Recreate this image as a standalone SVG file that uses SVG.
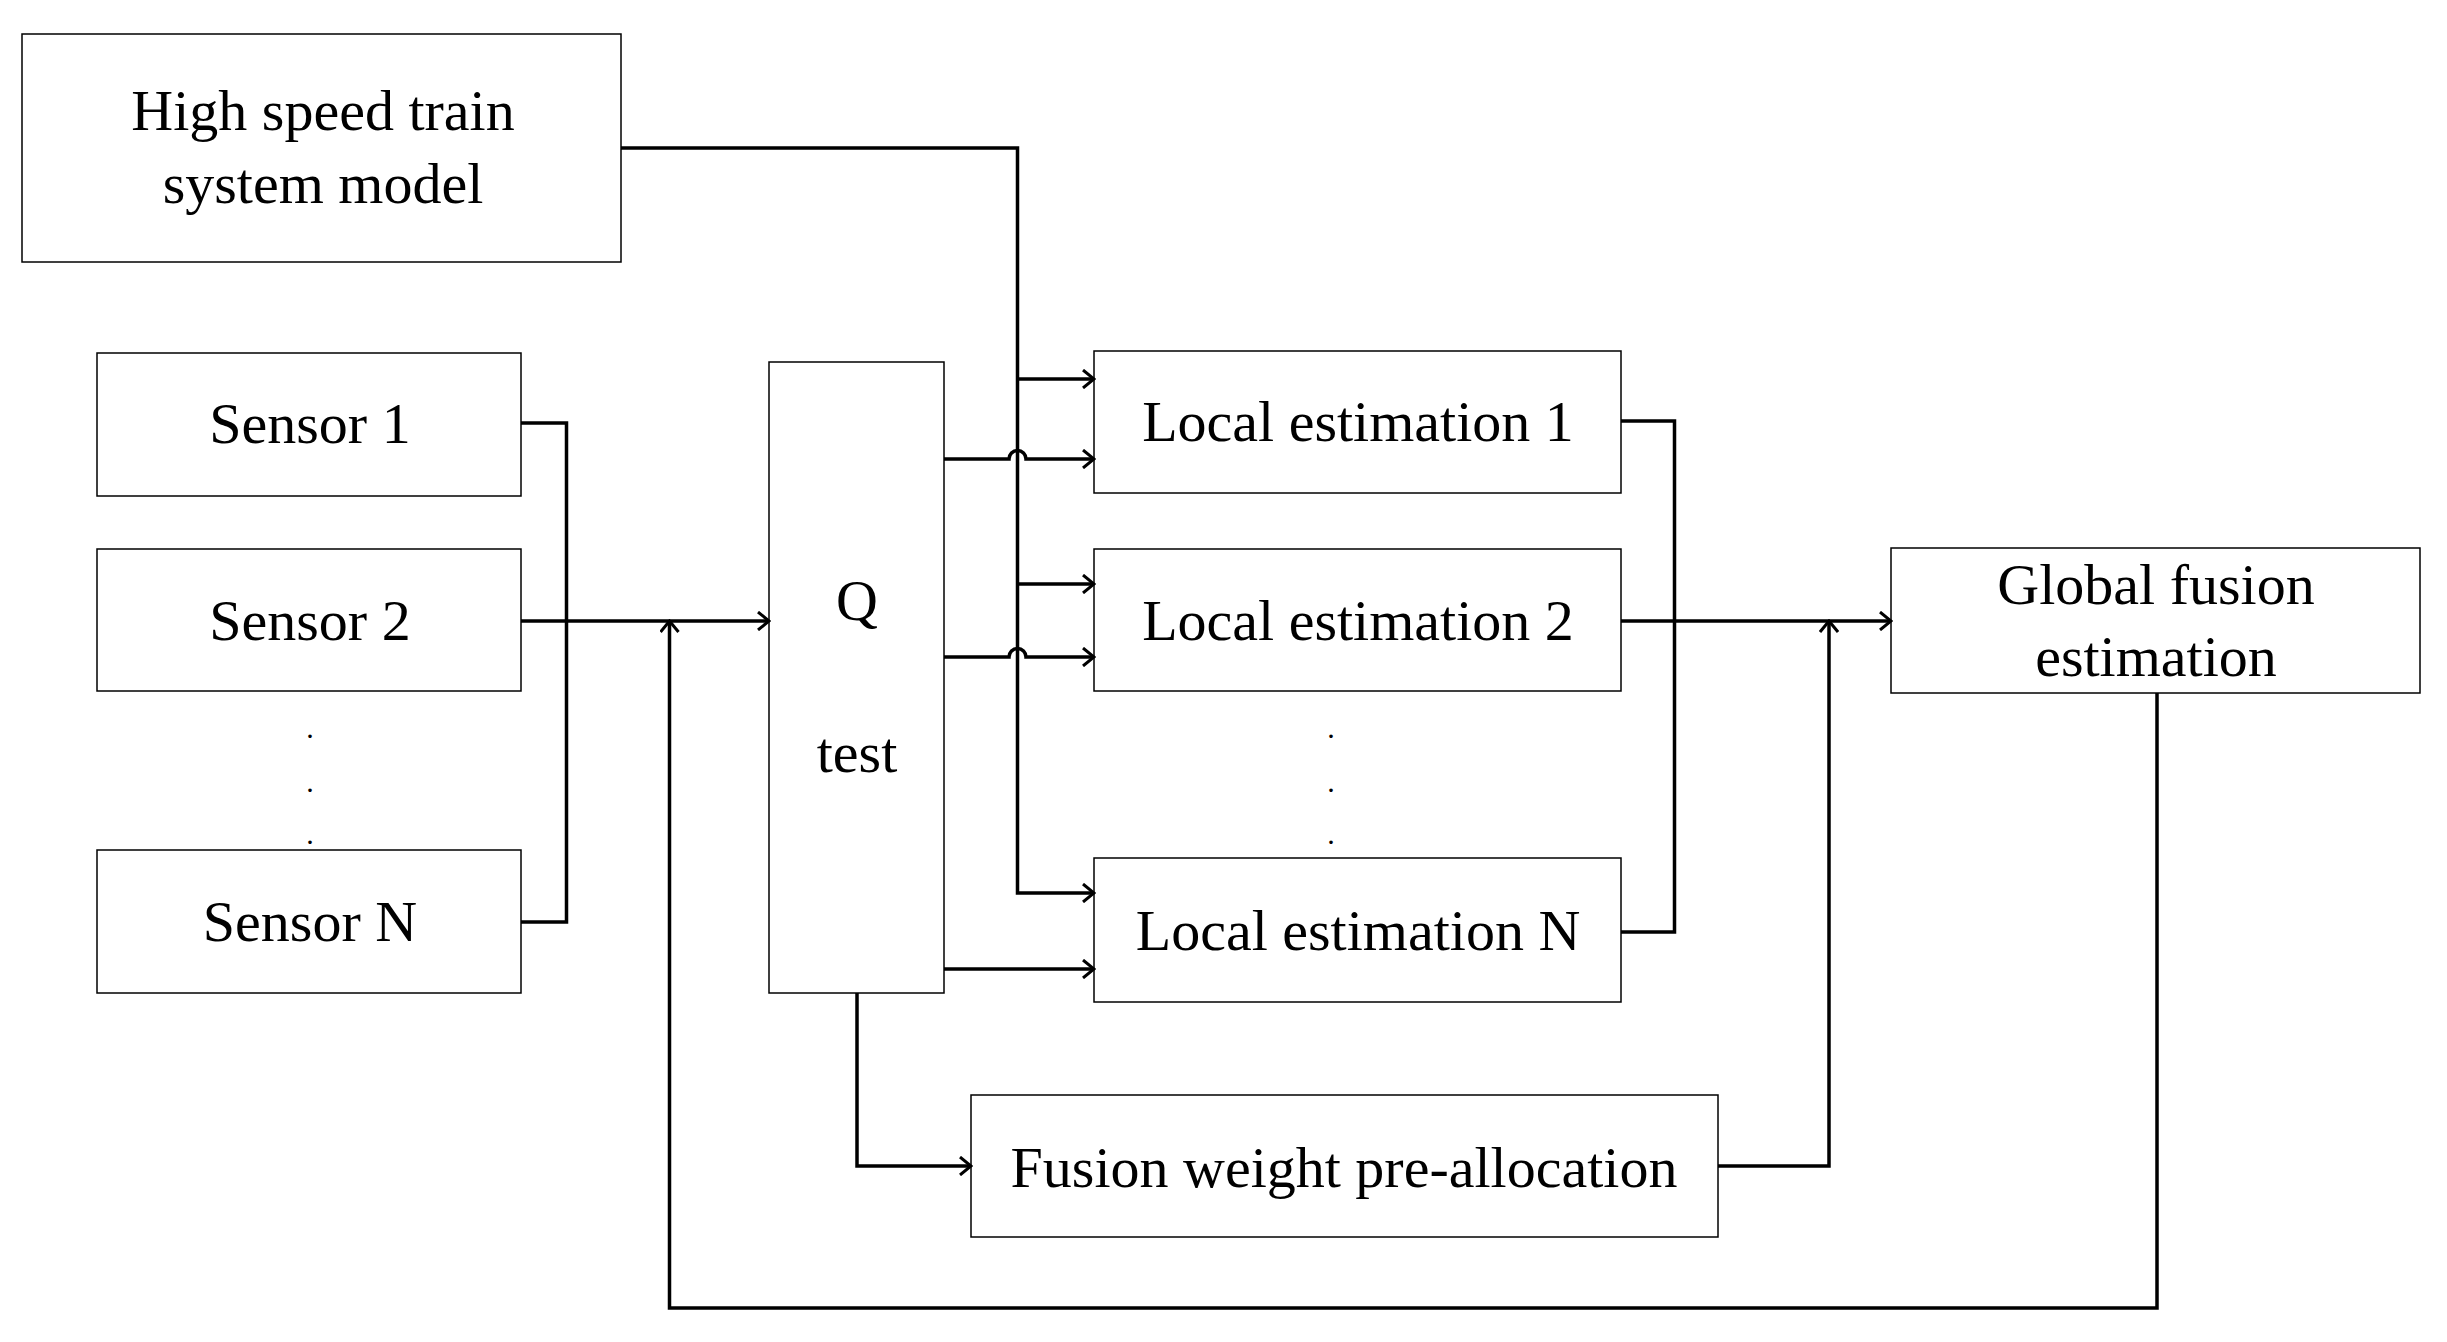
<svg xmlns="http://www.w3.org/2000/svg" width="2447" height="1342" viewBox="0 0 2447 1342">
<style>
.b{fill:#fff;stroke:#000;stroke-width:1.5}
.t{font-family:"Liberation Serif",serif;font-size:58px;text-anchor:middle;fill:#000}
.c{fill:none;stroke:#000;stroke-width:3.5}
.d{font-family:"Liberation Serif",serif;font-size:30px;text-anchor:middle}
</style>
<defs><marker id="a" markerWidth="14" markerHeight="20" refX="12" refY="10" orient="auto" markerUnits="userSpaceOnUse"><path d="M1,1 L12,10 L1,19" fill="none" stroke="#000" stroke-width="3"/></marker></defs>
<rect width="2447" height="1342" fill="#fff"/>
<g id="hsts"><rect class="b" x="22" y="34" width="599" height="228"/><text class="t" x="323" y="130">High speed train</text><text class="t" x="323" y="203">system model</text></g>
<g id="s1"><rect class="b" x="97" y="353" width="424" height="143"/><text class="t" x="310" y="443">Sensor 1</text></g>
<g id="s2"><rect class="b" x="97" y="549" width="424" height="142"/><text class="t" x="310" y="640">Sensor 2</text></g>
<g id="sn"><rect class="b" x="97" y="850" width="424" height="143"/><text class="t" x="310" y="941">Sensor N</text></g>
<g id="dots1"><text class="d" x="310" y="738">.</text><text class="d" x="310" y="792">.</text><text class="d" x="310" y="844">.</text></g>
<g id="q"><rect class="b" x="769" y="362" width="175" height="631"/><text class="t" x="857" y="620">Q</text><text class="t" x="857" y="772">test</text></g>
<g id="l1"><rect class="b" x="1094" y="351" width="527" height="142"/><text class="t" x="1358" y="441">Local estimation 1</text></g>
<g id="l2"><rect class="b" x="1094" y="549" width="527" height="142"/><text class="t" x="1358" y="640">Local estimation 2</text></g>
<g id="ln"><rect class="b" x="1094" y="858" width="527" height="144"/><text class="t" x="1358" y="950">Local estimation N</text></g>
<g id="dots2"><text class="d" x="1331" y="738">.</text><text class="d" x="1331" y="792">.</text><text class="d" x="1331" y="844">.</text></g>
<g id="g"><rect class="b" x="1891" y="548" width="529" height="145"/><text class="t" x="2156" y="604">Global fusion</text><text class="t" x="2156" y="676">estimation</text></g>
<g id="fw"><rect class="b" x="971" y="1095" width="747" height="142"/><text class="t" x="1344" y="1187">Fusion weight pre-allocation</text></g>
<g id="connectors">
<path class="c" d="M621,148 H1017.5 V893 H1094" marker-end="url(#a)"/>
<path class="c" d="M1017.5,379 H1094" marker-end="url(#a)"/>
<path class="c" d="M1017.5,584 H1094" marker-end="url(#a)"/>
<path class="c" d="M944,459 H1009 A8.5,8.5 0 0 1 1026,459 H1094" marker-end="url(#a)"/>
<path class="c" d="M944,657 H1009 A8.5,8.5 0 0 1 1026,657 H1094" marker-end="url(#a)"/>
<path class="c" d="M944,969 H1094" marker-end="url(#a)"/>
<path class="c" d="M521,423 H566.5 V922 H521"/>
<path class="c" d="M521,621 H769" marker-end="url(#a)"/>
<path class="c" d="M2157,693 V1308 H669.5 V621" marker-end="url(#a)"/>
<path class="c" d="M857,993 V1166 H971" marker-end="url(#a)"/>
<path class="c" d="M1621,421 H1674.5 V932 H1621"/>
<path class="c" d="M1621,621 H1891" marker-end="url(#a)"/>
<path class="c" d="M1718,1166 H1829 V621" marker-end="url(#a)"/>
</g>
</svg>
